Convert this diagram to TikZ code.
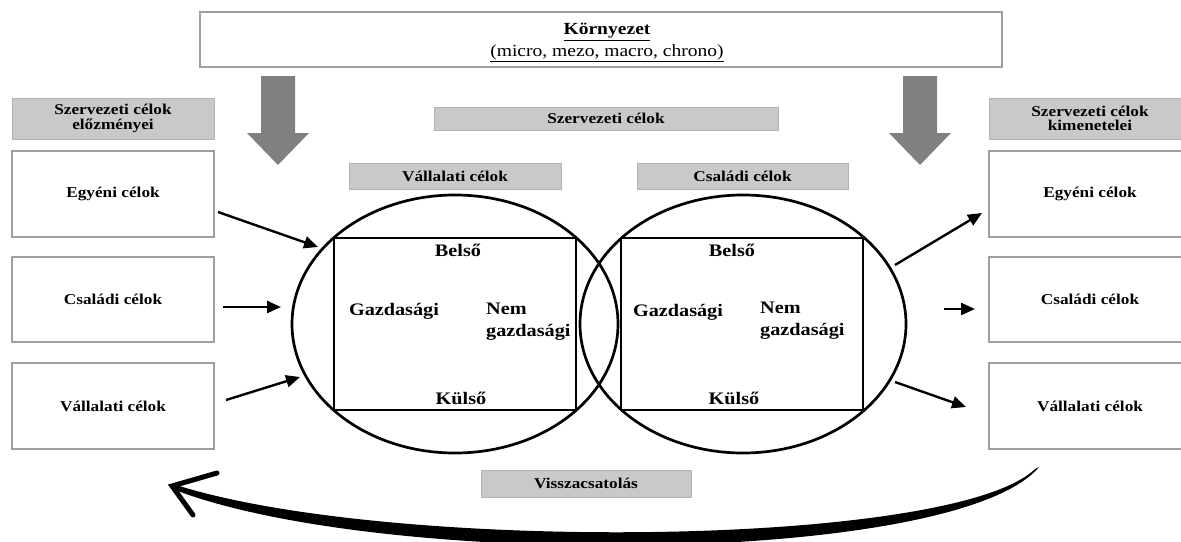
\documentclass[tikz,border=0pt]{standalone}
\usepackage{fontspec}
\setmainfont{Liberation Serif}[FakeStretch=1.15]
\usetikzlibrary{arrows.meta,shapes.geometric}
\newcommand{\bxf}{\fontsize{15}{14.5}\selectfont\bfseries}
\newcommand{\innf}{\fontsize{17.6}{22}\selectfont\bfseries}
\newcommand{\tpf}{\fontsize{17}{20}\selectfont}
\begin{document}
\begin{tikzpicture}[x=1pt,y=-1pt,
  whitebox/.style={draw=gray!75, line width=1.3pt, fill=white, inner sep=0pt, font=\bxf, align=center},
  graybox/.style={draw=gray!60, line width=1pt, fill=gray!42, inner sep=0pt, font=\bxf, align=center},
  ring/.style={draw=black, line width=2.7pt, ellipse, inner sep=0pt, minimum width=326pt, minimum height=258pt},
  inner/.style={draw=black, line width=2pt, inner sep=0pt, minimum width=242pt, minimum height=172pt},
  lbl/.style={font=\innf, inner sep=0pt, align=left},
  arr/.style={line width=2.4pt, -{Triangle[length=14pt,width=12pt]}},
  bigarrow/.style={fill=gray, draw=none}
]
\useasboundingbox (0,0) rectangle (1181,541);
\clip (0,0) rectangle (1181,541);

% environment box
\node[whitebox, minimum width=802pt, minimum height=55pt] (env) at (601,39.5) {};
\node[inner sep=0pt, font=\tpf\bfseries] (envt) at (607,32) {\underline{Környezet}};
\node[inner sep=0pt, font=\tpf] (envs) at (607,53) {\underline{(micro, mezo, macro, chrono)}};

% big gray arrows
\fill[bigarrow] (261,76) -- (295,76) -- (295,133) -- (309,133) -- (278,165) -- (247,133) -- (261,133) -- cycle;
\fill[bigarrow] (903,76) -- (937,76) -- (937,133) -- (951,133) -- (920,165) -- (889,133) -- (903,133) -- cycle;

% headers
\node[graybox, minimum width=202pt, minimum height=41pt] (lh) at (113,118.5) {Szervezeti célok\\előzményei};
\node[graybox, minimum width=202pt, minimum height=41pt] (rh) at (1090,118.5) {Szervezeti célok\\kimenetelei};
\node[graybox, minimum width=344pt, minimum height=23pt] (sz) at (606,118.5) {Szervezeti célok};
\node[graybox, minimum width=212pt, minimum height=26pt] (vg) at (455,176) {Vállalati célok};
\node[graybox, minimum width=211pt, minimum height=26pt] (cg) at (742.5,176) {Családi célok};
\node[graybox, minimum width=210pt, minimum height=27pt] (vis) at (586,483.5) {Visszacsatolás};

% left boxes
\node[whitebox, minimum width=202pt, minimum height=86pt] (l1) at (113,194) {Egyéni célok};
\node[whitebox, minimum width=202pt, minimum height=85pt] (l2) at (113,299.5) {Családi célok};
\node[whitebox, minimum width=202pt, minimum height=86pt] (l3) at (113,406) {Vállalati célok};
% right boxes
\node[whitebox, minimum width=202pt, minimum height=86pt] (r1) at (1090,194) {Egyéni célok};
\node[whitebox, minimum width=202pt, minimum height=85pt] (r2) at (1090,299.5) {Családi célok};
\node[whitebox, minimum width=202pt, minimum height=86pt] (r3) at (1090,406) {Vállalati célok};

% circles and rectangles
\node[ring] (c1) at (455,324) {};
\node[ring] (c2) at (743,324) {};
\node[inner] (q1) at (455,324) {};
\node[inner] (q2) at (742,324) {};

% inner labels
\node[lbl] (b1) at (458,250) {Belső};
\node[lbl] (k1) at (461,398) {Külső};
\node[lbl] (g1) at (394,311) {Gazdasági};
\node[lbl, anchor=west] (n1) at (486,322) {Nem\\gazdasági};
\node[lbl] (b2) at (732,250) {Belső};
\node[lbl] (k2) at (734,398) {Külső};
\node[lbl] (g2) at (678,312) {Gazdasági};
\node[lbl, anchor=west] (n2) at (760,321) {Nem\\gazdasági};

% arrow end points
\coordinate (a1s) at (218,212); \coordinate (a1e) at (318,247);
\coordinate (a2s) at (223,307); \coordinate (a2e) at (281,307);
\coordinate (a3s) at (226,400); \coordinate (a3e) at (300,377);
\coordinate (b1s) at (895,265); \coordinate (b1e) at (982,213);
\coordinate (b2s) at (944,309); \coordinate (b2e) at (975,309);
\coordinate (b3s) at (895,382); \coordinate (b3e) at (966,407);
\draw[arr] (a1s) -- (a1e);
\draw[arr] (a2s) -- (a2e);
\draw[arr] (a3s) -- (a3e);
\draw[arr] (b1s) -- (b1e);
\draw[arr] (b2s) -- (b2e);
\draw[arr] (b3s) -- (b3e);

% feedback arrow
\coordinate (fbs) at (1037,468);
\coordinate (fbt) at (172,486);
\fill[black] (1039,467) .. controls (957,565) and (385,570) .. (175,490)
  -- (173,484) .. controls (385,553) and (953,548) .. (1035,469) -- cycle;
\draw[line width=5pt, line cap=round, line join=miter] (217,473) -- (fbt) -- (193,515);
\end{tikzpicture}
\end{document}
